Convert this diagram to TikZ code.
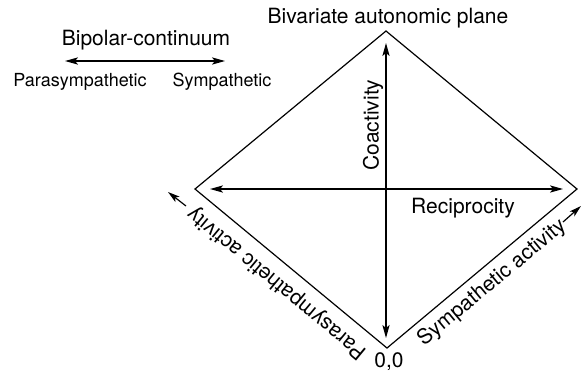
\documentclass[tikz,border=0pt]{standalone}
\usepackage{fontspec}
\setmainfont{TeX Gyre Heros}
\usetikzlibrary{arrows.meta}
\begin{document}
\begin{tikzpicture}[x=0.5pt,y=-0.5pt]
				\tikzstyle{txt}=[inner sep=0pt,font=\fontsize{10.5}{12}\selectfont]
				\tikzstyle{small}=[inner sep=0pt,font=\fontsize{9}{11}\selectfont]
				\tikzstyle{edgeline}=[line width=0.6pt]
				\tikzstyle{both}=[line width=0.6pt,{Stealth[length=6.5pt,width=3.6pt,inset=1.5pt]}-{Stealth[length=6.5pt,width=3.6pt,inset=1.5pt]}]
				\tikzstyle{one}=[line width=0.6pt,-{Stealth[length=6pt,width=3.4pt,inset=1.5pt]}]
				\useasboundingbox (0,0) rectangle (583,372);
				% diamond corners
				\coordinate (top) at (386,31);
				\coordinate (bot) at (387,348);
				\coordinate (lft) at (195,189);
				\coordinate (rgt) at (577,189);
				\coordinate (ctop) at (386,43);
				\coordinate (cbot) at (386,338);
				\coordinate (rl) at (210,189);
				\coordinate (rr) at (563,189);
				\coordinate (pa) at (186,206);
				\coordinate (pb) at (168,192);
				\coordinate (sa) at (563,222);
				\coordinate (sb) at (581,206);
				\coordinate (bl) at (65,61);
				\coordinate (br) at (225,61);
				\node[txt](plane) at (388,18){Bivariate autonomic plane};
				\node[txt](bipolar) at (146,40){Bipolar-continuum};
				\node[small](para) at (80,82){Parasympathetic};
				\node[small](symp) at (222,82){Sympathetic};
				\node[txt,rotate=90](coact) at (373,125){Coactivity};
				\node[txt](recip) at (463,208){Reciprocity};
				\node[txt,rotate=140.4](paraact) at (277,283){Parasympathetic activity};
				\node[txt,rotate=39.6](sympact) at (492,283){Sympathetic activity};
				\node[txt](origin) at (389,362){0,0};
				\draw[edgeline] (top) -- (rgt) -- (bot) -- (lft) -- cycle;
				\path
					(cbot) edge[both] (ctop)
					(rl) edge[both] (rr)
					(bl) edge[both] (br)
					(pa) edge[one] (pb)
					(sa) edge[one] (sb);
			\end{tikzpicture}
\end{document}
